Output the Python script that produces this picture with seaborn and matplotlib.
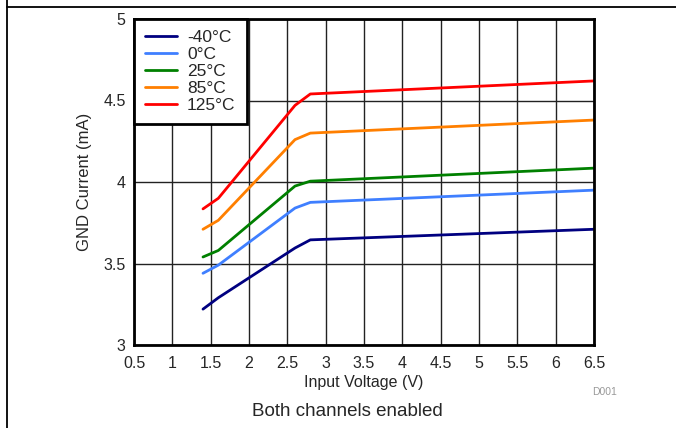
import numpy as np
import pandas as pd
import matplotlib
matplotlib.use('Agg')
from matplotlib import pyplot as plt
from matplotlib.lines import Line2D
import seaborn as sns

# input voltage points
vin = [1.4, 1.6, 2.6, 2.8, 6.5]

# GND current (mA) per temperature
i_m40 = [3.22, 3.29, 3.595, 3.645, 3.71]
i_0 = [3.44, 3.49, 3.84, 3.875, 3.95]
i_25 = [3.54, 3.58, 3.975, 4.005, 4.085]
i_85 = [3.71, 3.765, 4.26, 4.30, 4.38]
i_125 = [3.835, 3.90, 4.47, 4.54, 4.62]

temps = ['-40°C', '0°C', '25°C', '85°C', '125°C']
colors = ['#000080', '#3F7FFF', '#008000', '#FF7F00', '#FF0000']

xticks = [0.5, 1, 1.5, 2, 2.5, 3, 3.5, 4, 4.5, 5, 5.5, 6, 6.5]
yticks = [3, 3.5, 4, 4.5, 5]

df = pd.DataFrame({
    'Input Voltage (V)': vin * 5,
    'GND Current (mA)': i_m40 + i_0 + i_25 + i_85 + i_125,
    'Temp': [t for t in temps for _ in vin],
})

sns.set_style('white')
plt.rcParams['font.family'] = ['Liberation Sans', 'DejaVu Sans']

fig = plt.figure(figsize=(6.76, 4.28), dpi=100)
ax = fig.add_axes([134/676, 1-345/428, 460/676, 326/428])

sns.lineplot(data=df, x='Input Voltage (V)', y='GND Current (mA)', hue='Temp',
             hue_order=temps, palette=colors, linewidth=2, ax=ax, legend=False)

ax.set_xlim(0.5, 6.5)
ax.set_ylim(3, 5)
ax.set_xticks(xticks)
ax.set_xticklabels([('%g' % t) for t in xticks], fontsize=11.5)
ax.set_yticks(yticks)
ax.set_yticklabels([('%g' % t) for t in yticks], fontsize=11.5)
ax.tick_params(axis='x', length=0, pad=8)
ax.tick_params(axis='y', length=0, pad=6)
ax.grid(True, color='#222222', linewidth=1)
ax.set_axisbelow(True)
for s in ax.spines.values():
    s.set_color('black')
    s.set_linewidth(2)
ax.set_xlabel('Input Voltage (V)', fontsize=11.5, labelpad=3)
ax.set_ylabel('GND Current (mA)', fontsize=12, labelpad=8)

handles = [Line2D([0], [0], color=c, lw=2) for c in colors]
leg = ax.legend(handles, temps, loc='upper left', fontsize=12.5, frameon=True,
                fancybox=False, framealpha=1, borderaxespad=0,
                handlelength=1.8, handletextpad=0.6, labelspacing=0.1,
                borderpad=0.65)
leg.get_frame().set_edgecolor('black')
leg.get_frame().set_linewidth(2)

fig.text(605/676, 1-392/428, 'D001', fontsize=7.5, color='#999999', ha='center', va='center')
fig.text(347/676, 1-412/428, 'Both channels enabled', fontsize=13.5, ha='center', va='center')

# page border lines
fig.add_artist(Line2D([7/676, 1], [1-7/428, 1-7/428], color='black', lw=1.3, transform=fig.transFigure))
fig.add_artist(Line2D([7/676, 7/676], [0, 1], color='black', lw=1.3, transform=fig.transFigure))

fig.savefig('out.png', dpi=100)
